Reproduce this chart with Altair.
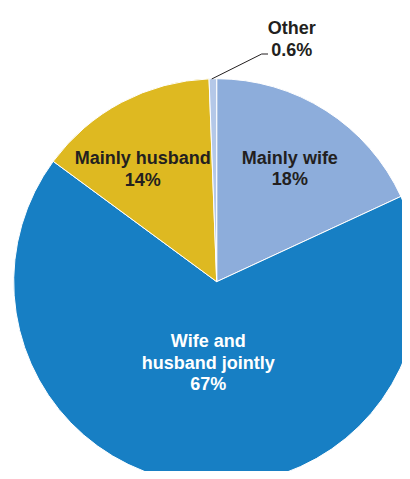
import altair as alt
import pandas as pd

categories = ["Mainly wife", "Wife and husband jointly", "Mainly husband", "Other"]
values = [18.1, 67.0, 14.3, 0.6]
pct_labels = ["18%", "67%", "14%", "0.6%"]
name_labels = ["Mainly wife", "Wife and\nhusband jointly", "Mainly husband", "Other"]
colors = ["#8DADDB", "#177FC4", "#DEB921", "#B4C8E8"]

df = pd.DataFrame({
    "cat": categories,
    "val": values,
    "idx": list(range(len(categories))),
    "label": [n + "\n" + p for n, p in zip(name_labels, pct_labels)],
})

CX, CY, R = 208.7, 273.7, 203
FONT = "Liberation Sans"

pie = alt.Chart(df).mark_arc(radius=R, stroke="white", strokeWidth=1).encode(
    theta=alt.Theta("val:Q", stack=True),
    order=alt.Order("idx:Q"),
    x=alt.value(CX),
    y=alt.value(CY),
    color=alt.Color("cat:N", scale=alt.Scale(domain=categories, range=colors), legend=None),
)

inner = alt.Chart(df).transform_window(
    cum="sum(val)", sort=[alt.SortField("idx", order="ascending")],
    frame=[None, 0],
).transform_calculate(
    mid=("datum.cum - datum.val / 2"
         " - (datum.cat == 'Mainly husband' ? 0.9 : 0)"
         " - (datum.cat == 'Mainly wife' ? 0.5 : 0)"
         " + (datum.cat == 'Wife and husband jointly' ? 0.6 : 0)"),
    inner="datum.cat == 'Other' ? '' : datum.label",
    lr="datum.cat == 'Wife and husband jointly' ? 61 : 143",
).mark_text(
    font=FONT, fontSize=18, fontWeight="bold", lineBreak="\n", lineHeight=21.5,
    align="center", baseline="middle",
).encode(
    theta=alt.Theta("mid:Q", stack=None),
    x=alt.value(CX),
    y=alt.value(CY),
    radius=alt.Radius("lr:Q", scale=None),
    text="inner:N",
    color=alt.condition("datum.cat == 'Wife and husband jointly'", alt.value("white"), alt.value("#231F20")),
)

other_df = df[df["cat"] == "Other"]
other_text = alt.Chart(other_df).mark_text(
    font=FONT, fontSize=18, fontWeight="bold", lineBreak="\n", lineHeight=22.5,
    align="center", baseline="middle", color="#231F20",
).encode(
    x=alt.value(283.7),
    y=alt.value(20.5),
    text="label:N",
)

leader1 = alt.Chart(other_df).mark_rule(color="#231F20", strokeWidth=1).encode(
    x=alt.value(203.7), y=alt.value(71), x2=alt.value(253.7), y2=alt.value(46)
)
leader2 = alt.Chart(other_df).mark_rule(color="#231F20", strokeWidth=1).encode(
    x=alt.value(253.7), y=alt.value(46), x2=alt.value(260), y2=alt.value(46)
)

chart = alt.layer(pie, inner, leader1, leader2, other_text).properties(
    width=394, height=463, padding=0,
    autosize=alt.AutoSizeParams(type="none"),
).configure_view(stroke=None)

chart.save("out.html", embed_options={"renderer": "svg", "actions": False})
